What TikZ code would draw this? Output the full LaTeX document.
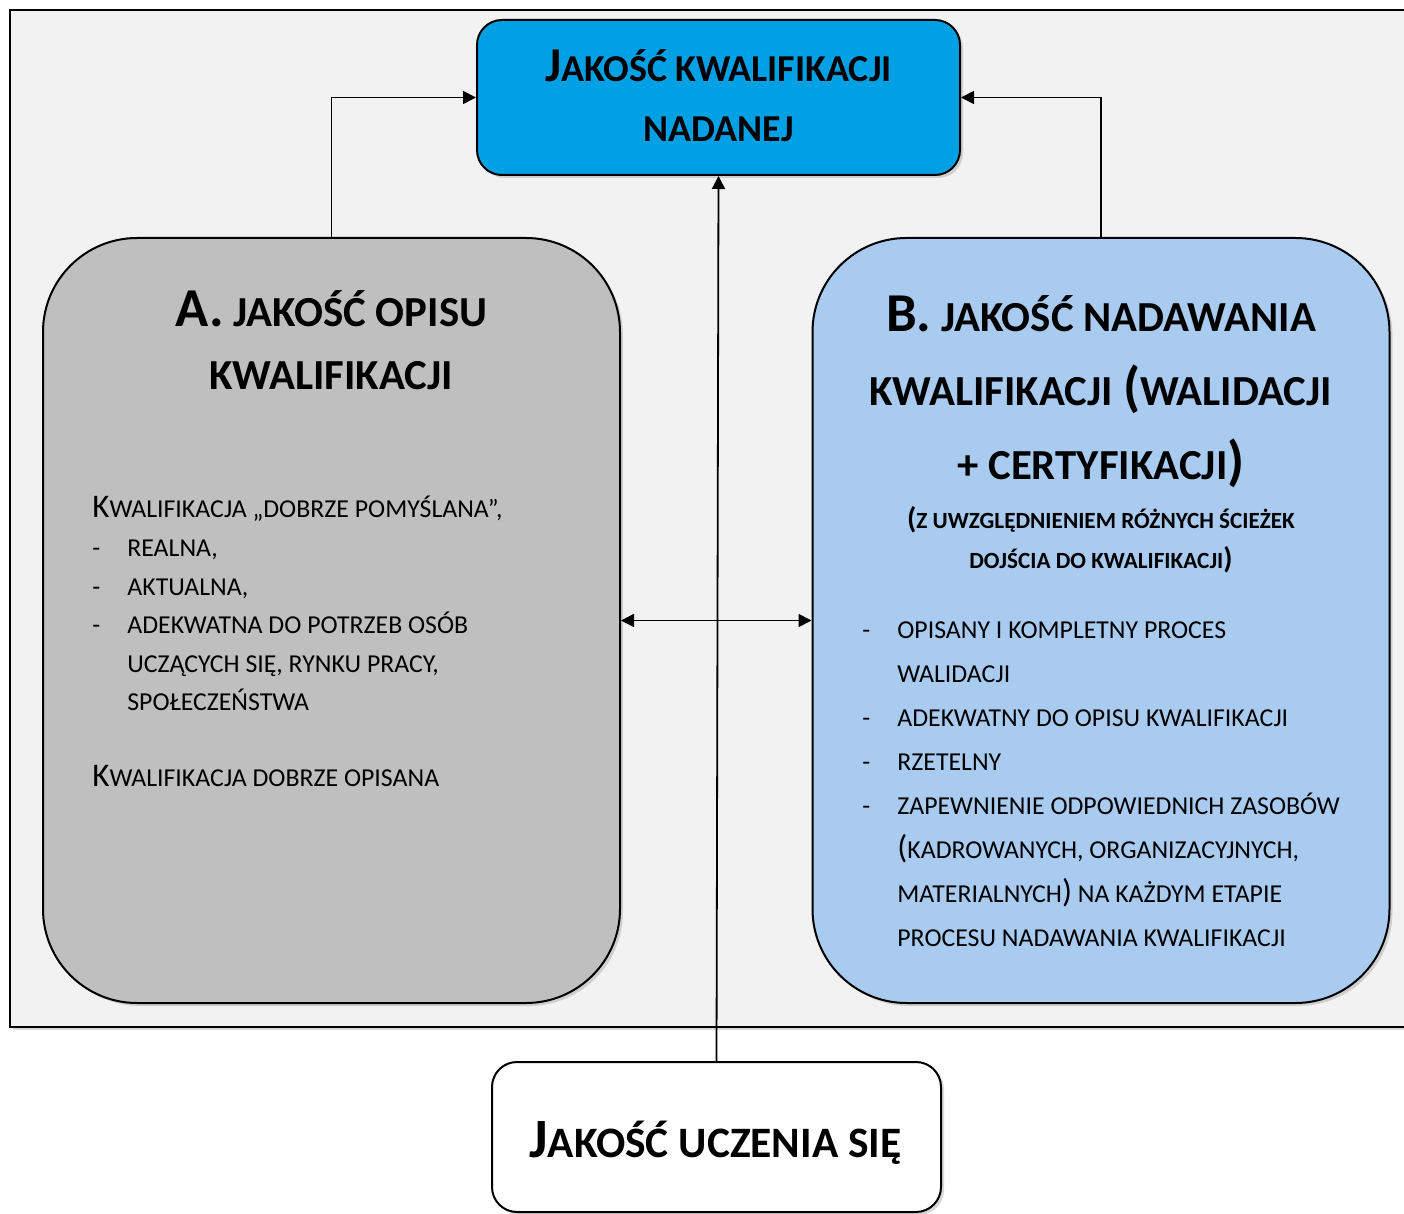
\documentclass[tikz,border=0pt]{standalone}
\usepackage{fontspec}
\setmainfont{Carlito}
\usetikzlibrary{arrows.meta,shadows}
\definecolor{tlo}{HTML}{F2F2F2}
\definecolor{niebieski}{HTML}{00A1E4}
\definecolor{szary}{HTML}{BFBFBF}
\definecolor{jasnyniebieski}{HTML}{A9CBEF}
\newcommand\duza[1]{\scalebox{1.28}{#1}}

\begin{document}
\begin{tikzpicture}[x=0.5pt,y=0.5pt,yscale=-1,
    box/.style={draw=black, line width=1pt, rounded corners=12.5pt,
        drop shadow={opacity=0.3, shadow xshift=1.5pt, shadow yshift=-1.5pt}},
    duzybox/.style={box, rounded corners=47pt, minimum width=288.5pt, minimum height=382.5pt},
    conn/.style={line width=0.9pt, -{Triangle[length=6.5pt,width=6.5pt]}},
    tytul/.style={font=\bfseries\fontsize{21.4pt}{21.4pt}\selectfont, anchor=base, inner sep=0pt},
    podtytul/.style={tytul, font=\bfseries\fontsize{11.6pt}{11.6pt}\selectfont},
    tekst/.style={font=\fontsize{12.9pt}{12.9pt}\selectfont, anchor=base west, inner sep=0pt}]
    \useasboundingbox (0,0) rectangle (1404,1214);
    \fill[white] (0,0) rectangle (1404,1214);

    %Shape: background frame
    \path[draw=black, line width=1pt, fill=tlo, drop shadow={opacity=0.3, shadow xshift=1.5pt, shadow yshift=-1.5pt}] (10,10) rectangle (1430,1027);

    %Boxes
    \node[box, fill=niebieski, minimum width=241.5pt, minimum height=77.5pt] (nadana) at (718.5,97.5) {};
    \node[duzybox, fill=szary] (opis) at (331.5,620.5) {};
    \node[duzybox, fill=jasnyniebieski] (nadawanie) at (1101,620.5) {};
    \node[box, fill=white, minimum width=224.5pt, minimum height=75pt] (uczenie) at (716.5,1137) {};

    %Connectors
    \draw[conn] (opis.north) |- (nadana.west);
    \draw[conn] (nadawanie.north) |- (nadana.east);
    \draw[conn, {Triangle[length=6.5pt,width=6.5pt]}-{Triangle[length=6.5pt,width=6.5pt]}] (opis.east) -- (nadawanie.west);
    \draw[conn] (uczenie.north) -- (nadana.south);

    %Titles
    \node[tytul, font=\bfseries\fontsize{19pt}{19pt}\selectfont] (nadanaT1) at (718.5,82) {\duza{J}AKOŚĆ KWALIFIKACJI};
    \node[tytul, font=\bfseries\fontsize{19pt}{19pt}\selectfont] (nadanaT2) at (718.5,142) {NADANEJ};

    \node[tytul] (opisT1) at (331.5,327) {\duza{A.} JAKOŚĆ OPISU};
    \node[tytul] (opisT2) at (331.5,390) {KWALIFIKACJI};

    \node[tytul] (nadawanieT1) at (1101,332) {\duza{B.} JAKOŚĆ NADAWANIA};
    \node[tytul] (nadawanieT2) at (1101,406) {KWALIFIKACJI \duza{(}WALIDACJI};
    \node[tytul] (nadawanieT3) at (1101,480) {+ CERTYFIKACJI\duza{)}};
    \node[podtytul] (nadawanieT4) at (1101,528) {\duza{(}Z UWZGLĘDNIENIEM RÓŻNYCH ŚCIEŻEK};
    \node[podtytul] (nadawanieT5) at (1101,568) {DOJŚCIA DO KWALIFIKACJI\duza{)}};

    \node[tytul, font=\bfseries\fontsize{21.7pt}{21.7pt}\selectfont] (uczenieT) at (715.5,1157) {\duza{J}AKOŚĆ UCZENIA SIĘ};

    %Text A
    \node[tekst] (opisL1) at (92,517) {\duza{K}WALIFIKACJA „DOBRZE POMYŚLANA”,};
    \node[tekst] (opisM1) at (92,556) {-};
    \node[tekst] (opisL2) at (127,556) {REALNA,};
    \node[tekst] (opisM2) at (92,595) {-};
    \node[tekst] (opisL3) at (127,595) {AKTUALNA,};
    \node[tekst] (opisM3) at (92,633) {-};
    \node[tekst] (opisL4) at (127,633) {ADEKWATNA DO POTRZEB OSÓB};
    \node[tekst] (opisL5) at (127,672) {UCZĄCYCH SIĘ, RYNKU PRACY,};
    \node[tekst] (opisL6) at (127,710) {SPOŁECZEŃSTWA};
    \node[tekst] (opisL7) at (92,786) {\duza{K}WALIFIKACJA DOBRZE OPISANA};

    %Text B
    \node[tekst] (nadawanieM1) at (862,638) {-};
    \node[tekst] (nadawanieL1) at (897,638) {OPISANY I KOMPLETNY PROCES};
    \node[tekst] (nadawanieL2) at (897,682) {WALIDACJI};
    \node[tekst] (nadawanieM2) at (862,726) {-};
    \node[tekst] (nadawanieL3) at (897,726) {ADEKWATNY DO OPISU KWALIFIKACJI};
    \node[tekst] (nadawanieM3) at (862,770) {-};
    \node[tekst] (nadawanieL4) at (897,770) {RZETELNY};
    \node[tekst] (nadawanieM4) at (862,814) {-};
    \node[tekst] (nadawanieL5) at (897,814) {ZAPEWNIENIE ODPOWIEDNICH ZASOBÓW};
    \node[tekst] (nadawanieL6) at (897,858) {\duza{(}KADROWANYCH, ORGANIZACYJNYCH,};
    \node[tekst] (nadawanieL7) at (897,902) {MATERIALNYCH\duza{)} NA KAŻDYM ETAPIE};
    \node[tekst] (nadawanieL8) at (897,946) {PROCESU NADAWANIA KWALIFIKACJI};
\end{tikzpicture}
\end{document}
